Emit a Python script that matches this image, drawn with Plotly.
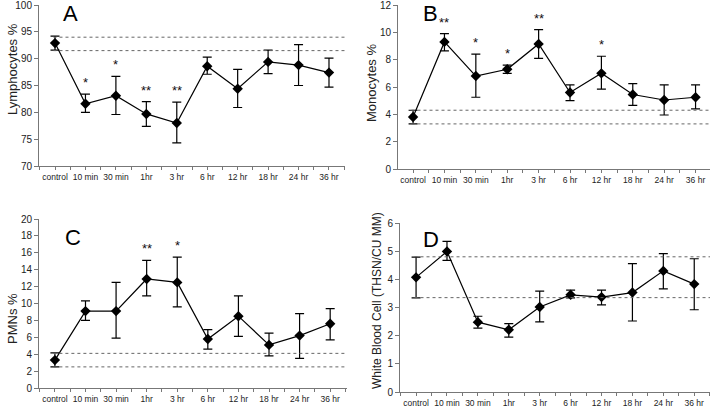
import plotly.graph_objects as go

W, H = 710, 407

categories = ["control", "10 min", "30 min", "1hr", "3 hr", "6 hr", "12 hr", "18 hr", "24 hr", "36 hr"]

lymph_mean = [92.9, 81.6, 83.1, 79.7, 78.0, 88.6, 84.4, 89.4, 88.8, 87.4]
lymph_hi = [94.2, 83.4, 86.7, 82.0, 81.9, 90.3, 88.0, 91.6, 92.6, 90.1]
lymph_lo = [91.6, 80.0, 79.6, 77.4, 74.3, 87.1, 80.9, 87.2, 85.0, 84.7]
lymph_sig = ["", "*", "*", "**", "**", "", "", "", "", ""]
lymph_ref = [94.0, 91.5]

mono_mean = [3.8, 9.3, 6.8, 7.3, 9.15, 5.6, 7.0, 5.45, 5.05, 5.25]
mono_hi = [4.3, 9.9, 8.4, 7.6, 10.2, 6.15, 8.25, 6.25, 6.15, 6.15]
mono_lo = [3.3, 8.65, 5.25, 7.0, 8.1, 5.0, 5.85, 4.65, 3.95, 4.4]
mono_sig = ["", "**", "*", "*", "**", "", "*", "", "", ""]
mono_ref = [4.3, 3.3]

pmn_mean = [3.3, 9.1, 9.1, 12.9, 12.5, 5.8, 8.5, 5.1, 6.2, 7.6]
pmn_hi = [4.15, 10.3, 12.5, 15.1, 15.5, 6.9, 10.9, 6.5, 8.8, 9.4]
pmn_lo = [2.5, 8.0, 5.9, 10.9, 9.6, 4.6, 6.1, 3.8, 3.5, 5.7]
pmn_sig = ["", "", "", "**", "*", "", "", "", "", ""]
pmn_ref = [4.1, 2.5]

wbc_mean = [4.07, 4.99, 2.48, 2.21, 3.02, 3.45, 3.37, 3.53, 4.30, 3.83]
wbc_hi = [4.79, 5.35, 2.69, 2.43, 3.58, 3.62, 3.62, 4.56, 4.91, 4.73]
wbc_lo = [3.34, 4.67, 2.27, 1.95, 2.49, 3.34, 3.09, 2.52, 3.66, 2.92]
wbc_sig = ["", "", "", "", "", "", "", "", "", ""]
wbc_ref = [4.8, 3.35]

FONT = "Liberation Sans, Arial, sans-serif"

panels = [
    dict(letter="A", title="Lymphocytes %", mean=lymph_mean, hi=lymph_hi, lo=lymph_lo, sig=lymph_sig,
         ref=lymph_ref, yr=[70, 100], dt=5, px_x=(39, 345), px_y=(5, 166), xr=(-0.526, 9.526),
         title_xy=(12, 69), letter_xy=(62, 14), letter_anchor="middle", tsize=13),
    dict(letter="B", title="Monocytes %", mean=mono_mean, hi=mono_hi, lo=mono_lo, sig=mono_sig,
         ref=mono_ref, yr=[0, 12], dt=2, px_x=(398, 710), px_y=(5, 169), xr=(-0.48, 9.46),
         title_xy=(372, 83), letter_xy=(422, 0), letter_anchor="top", tsize=13),
    dict(letter="C", title="PMNs %", mean=pmn_mean, hi=pmn_hi, lo=pmn_lo, sig=pmn_sig,
         ref=pmn_ref, yr=[0, 20], dt=2, px_x=(39, 347), px_y=(219, 388), xr=(-0.52, 9.55),
         title_xy=(12, 318), letter_xy=(64, 238), letter_anchor="middle", tsize=13),
    dict(letter="D", title="White Blood Cell (THSN/CU MM)", mean=wbc_mean, hi=wbc_hi, lo=wbc_lo, sig=wbc_sig,
         ref=wbc_ref, yr=[0, 6], dt=1, px_x=(400, 710), px_y=(223, 392), xr=(-0.52, 9.51),
         title_xy=(377, 300), letter_xy=(422, 239), letter_anchor="middle", tsize=12),
]

fig = go.Figure()
xs = list(range(len(categories)))
tickvals = []
ticktext = []
for i, c in enumerate(categories):
    tickvals += [i - 0.5, i]
    ticktext += ["", c]
tickvals.append(len(categories) - 0.5)
ticktext.append("")

annotations = []
shapes = []
for k, p in enumerate(panels):
    n = "" if k == 0 else str(k + 1)
    xa, ya = "x" + n, "y" + n
    err_plus = [h - m for h, m in zip(p["hi"], p["mean"])]
    err_minus = [m - l for m, l in zip(p["mean"], p["lo"])]
    fig.add_trace(go.Scatter(
        x=xs, y=p["mean"], mode="lines+markers", xaxis=xa, yaxis=ya,
        line=dict(color="black", width=1.2),
        marker=dict(symbol="diamond", size=8, color="black"),
        error_y=dict(type="data", symmetric=False, array=err_plus, arrayminus=err_minus,
                     color="black", thickness=1.2, width=4.5),
        showlegend=False, cliponaxis=False,
    ))
    x0, x1 = p["px_x"]
    y0, y1 = p["px_y"]
    fig.layout["xaxis" + n] = dict(
        domain=[x0 / W, x1 / W], range=list(p["xr"]), anchor=ya, automargin=False,
        tickmode="array", tickvals=tickvals, ticktext=ticktext, ticklabeloverflow="allow",
        ticks="outside", ticklen=3, tickcolor="#777", tickangle=0,
        showline=True, linecolor="#777", linewidth=1, showgrid=False, zeroline=False,
        tickfont=dict(family=FONT, size=8.5, color="#222"),
    )
    fig.layout["yaxis" + n] = dict(
        domain=[1 - y1 / H, 1 - y0 / H], range=p["yr"], dtick=p["dt"], anchor=xa, automargin=False,
        ticks="outside", ticklen=4, tickcolor="#777", ticklabeloverflow="allow",
        showline=True, linecolor="#777", linewidth=1, showgrid=False, zeroline=False,
        tickfont=dict(family=FONT, size=10, color="#222"),
    )
    for r in p["ref"]:
        shapes.append(dict(type="line", xref=xa, yref=ya, x0=-0.05, x1=p["xr"][1],
                           y0=r, y1=r, line=dict(color="#666", width=1, dash="dot")))
    for i, s in enumerate(p["sig"]):
        if s:
            annotations.append(dict(x=i, y=p["hi"][i], xref=xa, yref=ya, text=s, showarrow=False,
                                    yanchor="bottom", yshift=2,
                                    font=dict(family=FONT, size=13, color="#111")))
    annotations.append(dict(x=p["letter_xy"][0] / W, y=1 - p["letter_xy"][1] / H, xref="paper", yref="paper",
                            text=p["letter"], showarrow=False, xanchor="left", yanchor=p["letter_anchor"],
                            borderpad=0,
                            font=dict(family=FONT, size=22, color="black")))
    annotations.append(dict(x=p["title_xy"][0] / W, y=1 - p["title_xy"][1] / H, xref="paper", yref="paper",
                            text=p["title"], showarrow=False, textangle=-90,
                            xanchor="center", yanchor="middle",
                            font=dict(family=FONT, size=p["tsize"], color="#222")))

fig.update_layout(
    width=W, height=H, margin=dict(l=0, r=0, t=0, b=0),
    paper_bgcolor="white", plot_bgcolor="white",
    annotations=annotations, shapes=shapes,
)

fig.write_html("out.html", config={"displayModeBar": False},
               post_script="document.body.style.margin='0';document.body.style.padding='0';document.body.style.overflow='hidden';")
